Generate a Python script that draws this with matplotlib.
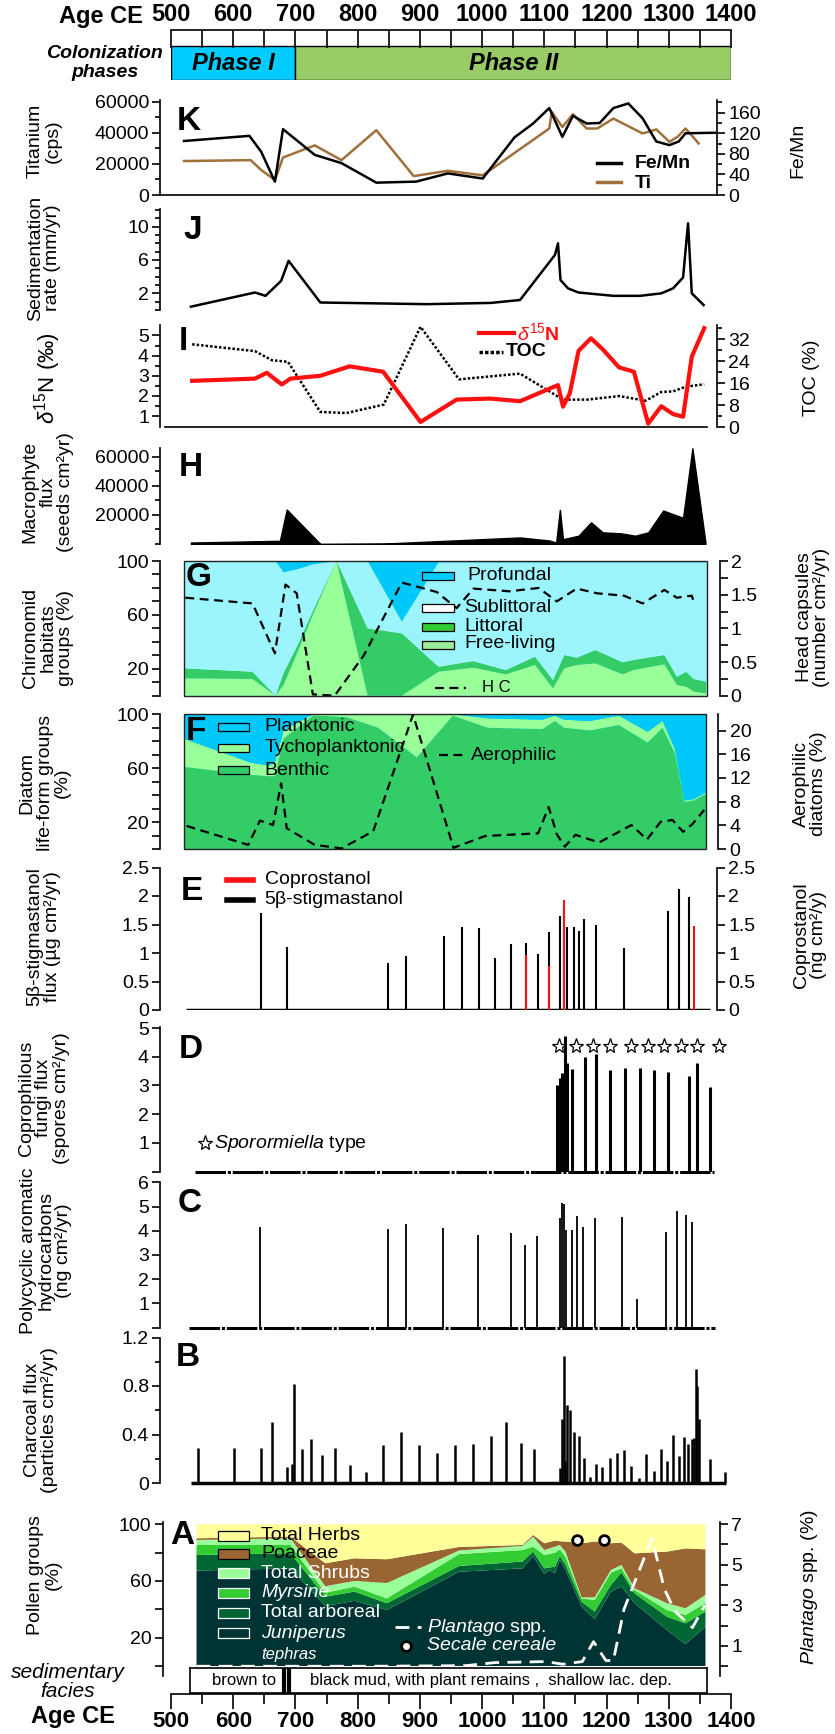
import numpy as np
import matplotlib
matplotlib.use("Agg")
import matplotlib.pyplot as plt
from matplotlib.patches import Rectangle
from matplotlib.lines import Line2D
from matplotlib.ticker import FixedLocator, FixedFormatter

plt.rcParams['font.family'] = ['Liberation Sans', 'DejaVu Sans']
plt.rcParams['mathtext.fontset'] = 'custom'
plt.rcParams['mathtext.rm'] = 'Liberation Sans'
plt.rcParams['mathtext.it'] = 'Liberation Sans:italic'
plt.rcParams['mathtext.bf'] = 'Liberation Sans:bold'
plt.rcParams['axes.linewidth'] = 1.2

# ---------------- data ----------------
phase_names = ['Phase I', 'Phase II']
phase_start = [500, 700]
phase_end = [700, 1400]

# K  Fe/Mn and Ti
femn_years = [521, 626, 645, 667, 680, 731, 774, 830, 894, 945, 1001, 1052, 1082, 1108, 1129,
              1146, 1168, 1189, 1211, 1235, 1258, 1280, 1301, 1316, 1327, 1374]
fe_mn = [105, 115, 84, 26, 128, 78, 62, 24, 26, 42, 32, 112, 139, 169, 113,
         154, 139, 140, 169, 178, 149, 104, 97, 104, 120, 121]
ti_years = [521, 628, 645, 667, 680, 731, 774, 830, 890, 945, 1001, 1108, 1112, 1129, 1146,
            1168, 1185, 1211, 1258, 1280, 1301, 1314, 1327, 1348]
ti_cps = [21900, 22500, 16100, 9700, 24200, 32000, 22500, 41800, 12200, 15600, 12700, 42900, 53600, 43900, 52100,
          42900, 42900, 49300, 39700, 42300, 34300, 37500, 42900, 33300]

# J  sedimentation rate
sed_years = [532, 635, 652, 677, 689, 740, 825, 911, 1014, 1061, 1117, 1122, 1126, 1138, 1155,
             1211, 1254, 1288, 1307, 1323, 1331, 1337, 1356]
sed_rate = [0.4, 2.1, 1.7, 3.5, 5.9, 0.9, 0.8, 0.7, 0.85, 1.2, 6.6, 8.0, 3.6, 2.6, 2.1,
            1.7, 1.7, 2.0, 2.6, 3.9, 10.4, 2.0, 0.6]

# I  d15N and TOC
d15n_years = [534, 635, 654, 678, 692, 740, 787, 841, 901, 959, 1013, 1061, 1122, 1130, 1141,
              1155, 1175, 1194, 1220, 1244, 1267, 1288, 1307, 1323, 1337, 1357]
d15n = [2.75, 2.86, 3.15, 2.57, 2.86, 3.0, 3.47, 3.2, 0.71, 1.82, 1.87, 1.74, 2.54, 1.47, 2.13,
        4.24, 4.86, 4.31, 3.42, 3.2, 0.63, 1.49, 1.1, 0.97, 3.95, 5.36]
toc_years = [534, 635, 662, 688, 740, 782, 842, 901, 963, 1061, 1130, 1169, 1220, 1263, 1288, 1307, 1327, 1357]
toc = [30.2, 27.7, 24.4, 23.8, 5.5, 5.1, 8.2, 36.6, 17.4, 19.5, 10.0, 10.0, 11.3, 9.6, 12.8, 13.0, 14.7, 15.6]

# H  macrophyte flux
macro_years = [532, 675, 686, 740, 843, 1061, 1083, 1108, 1119, 1125, 1130, 1155, 1175, 1194,
               1224, 1246, 1267, 1291, 1323, 1338, 1359]
macro_flux = [1000, 2200, 23700, 0, 300, 4500, 3500, 2400, 1000, 23500, 3300, 5700, 14900, 8000,
              7300, 5700, 8000, 23000, 18000, 65800, 1000]

# G  chironomid habitat groups (%) and head capsules
chiro_years = [521, 631, 668, 681, 704, 728, 766, 816, 871, 930, 986, 1038, 1085, 1114, 1132,
               1152, 1182, 1226, 1243, 1293, 1313, 1328, 1340, 1360]
free_living = [12.9, 12.4, 0, 8, 33, 60, 100, 0, 0, 17.8, 20.8, 15.8, 22.8, 5.4, 20.3,
               22.8, 24, 15.8, 19, 23.3, 8, 6.7, 3, 1.7]
littoral = [7.4, 5.4, 0, 9, 5, 3, 0, 50, 46.3, 3.7, 4.9, 3.2, 6.2, 6.2, 9.9,
            5.4, 9.9, 9, 7.5, 6.9, 6.1, 11.1, 9.4, 8.7]
sublittoral = [79.7, 82.2, 100, 74.6, 56, 34.5, 0, 50, 8.7, 77.5, 73.3, 80, 70, 87.4, 68.8,
               70.8, 65.1, 74.2, 72.5, 68.8, 84.9, 81.2, 86.6, 88.6]
profundal = [0, 0, 0, 8.4, 6, 2.5, 0, 0, 45, 1, 1, 1, 1, 1, 1,
             1, 1, 1, 1, 1, 1, 1, 1, 1]
hc_years = [523, 631, 667, 684, 702, 728, 763, 810, 871, 927, 959, 986, 1044, 1091, 1120,
            1152, 1185, 1228, 1258, 1293, 1313, 1337, 1341]
head_caps = [1.455, 1.37, 0.63, 1.65, 1.52, 0.02, 0, 0.6, 1.68, 1.54, 1.30, 1.59, 1.55, 1.60, 1.40,
             1.59, 1.52, 1.485, 1.37, 1.57, 1.455, 1.485, 1.37]

# F  diatom life-form groups (%) and aerophilic diatoms
diat_years = [520, 629, 658, 667, 681, 728, 781, 833, 895, 953, 1009, 1097, 1117, 1132, 1173,
              1220, 1266, 1290, 1310, 1325, 1340, 1360]
benthic = [61, 55, 54, 54, 82, 99, 98, 90, 68, 99, 90, 89, 95, 90, 88, 92, 79, 90, 71, 35, 36, 41]
tychoplank = [21, 9, 8, 10, 6, 1, 2, 10, 32, 1, 7, 7, 4, 6, 7, 7, 8, 5, 3, 1, 1, 1]
planktonic = [18, 36, 38, 36, 12, 0, 0, 0, 0, 0, 3, 4, 1, 4, 5, 1, 13, 5, 26, 64, 63, 58]
aero_years = [525, 624, 643, 664, 677, 686, 731, 774, 825, 889, 954, 1005, 1090, 1107, 1120,
              1133, 1150, 1188, 1240, 1265, 1287, 1306, 1323, 1338, 1357]
aerophilic = [3.9, 0.7, 4.8, 4.05, 11.1, 3.5, 0.7, 0.1, 3.0, 22.7, 0.2, 2.2, 2.65, 7.1, 2.5,
              0.4, 2.4, 1.1, 4.05, 1.6, 4.6, 4.9, 2.9, 4.2, 6.6]

# E  stanols
stig_years = [644, 686, 849, 878, 938, 967, 995, 1021, 1047, 1070, 1090, 1107, 1126, 1132, 1136,
              1148, 1155, 1163, 1183, 1228, 1298, 1316, 1332]
stigmastanol = [1.71, 1.10, 0.82, 0.94, 1.30, 1.46, 1.44, 0.92, 1.16, 1.18, 0.99, 1.37, 1.65, 1.75, 1.45,
                1.45, 1.38, 1.59, 1.50, 1.09, 1.73, 2.13, 1.99]
copro_years = [1070, 1107, 1131, 1341]
coprostanol = [0.96, 0.77, 1.93, 1.47]
stanol_span = [524, 1366]

# D  coprophilous fungi
fungi_years = [1121, 1125, 1129, 1133, 1136, 1145, 1165, 1183, 1206, 1230, 1254, 1276, 1299, 1332, 1345, 1366]
fungi_flux = [3.01, 3.25, 3.43, 4.73, 3.77, 3.56, 4.0, 4.09, 3.54, 3.6, 3.6, 3.54, 3.46, 3.34, 3.77, 2.93]
sporormiella_years = [1123, 1151, 1179, 1206, 1240, 1266, 1293, 1320, 1345, 1380]
fungi_span = [538, 1372]

# C  PAH
pah_years = [643, 848, 878, 937, 994, 1046, 1069, 1089, 1125, 1129, 1132, 1135, 1145, 1153, 1162,
             1181, 1225, 1249, 1296, 1313, 1328, 1338]
pah_flux = [4.17, 4.07, 4.26, 4.12, 3.82, 3.92, 3.41, 3.78, 4.51, 5.13, 5.09, 4.03, 4.03, 4.61, 4.17,
            4.51, 4.55, 1.18, 3.96, 4.81, 4.65, 4.38]
pah_span = [529, 1374]

# B  charcoal
char_years = [544, 601, 645, 663, 687, 694, 697, 710, 725, 742, 763, 787, 813, 840, 869, 898, 928, 957, 986, 1014,
              1039, 1063, 1083, 1125, 1128, 1131, 1133, 1136, 1141, 1147, 1155, 1163, 1173, 1183, 1193, 1205, 1217,
              1228, 1240, 1252, 1264, 1276, 1287, 1297, 1307, 1316, 1324, 1331, 1338, 1341, 1344, 1345, 1349,
              1366, 1391]
charcoal = [0.29, 0.29, 0.29, 0.50, 0.13, 0.16, 0.82, 0.28, 0.36, 0.23, 0.29, 0.15, 0.09, 0.31, 0.42, 0.31, 0.25,
            0.31, 0.32, 0.39, 0.50, 0.33, 0.28, 0.12, 0.53, 1.05, 0.18, 0.64, 0.60, 0.42, 0.39, 0.21, 0.05, 0.16,
            0.13, 0.21, 0.25, 0.27, 0.14, 0.04, 0.24, 0.10, 0.28, 0.18, 0.40, 0.22, 0.38, 0.32, 0.36, 0.37, 0.94,
            0.80, 0.53, 0.20, 0.09]
char_span = [532, 1392]

# A  pollen groups (%)
pollen_years = [541, 692, 748, 795, 847, 963, 1065, 1082, 1100, 1108, 1117, 1125, 1134, 1160, 1181,
                1207, 1224, 1245, 1297, 1327, 1359]
juniperus = [67.3, 68.9, 42.3, 46.0, 39.5, 66.5, 68.9, 77.6, 64.9, 67.7, 65.4, 74.8, 67.7, 41.9, 33.0,
             52.5, 56.1, 44.3, 25.4, 15.5, 27.8]
arboreal = [11.0, 10.6, 6.6, 6.5, 4.8, 4.1, 4.8, 3.1, 4.0, 1.8, 4.7, 2.8, 3.6, 3.5, 5.4,
            4.7, 9.9, 7.0, 9.4, 14.6, 10.6]
myrsine = [7.1, 5.9, 2.8, 3.5, 3.4, 8.4, 8.1, 3.5, 9.4, 9.5, 9.9, 4.7, 5.8, 2.3, 8.2,
           8.7, 2.9, 2.3, 4.7, 5.9, 5.9]
shrubs = [3.5, 4.7, 4.6, 4.0, 10.8, 2.5, 2.9, 7.1, 3.5, 4.0, 4.2, 3.1, 3.6, 0.7, 1.8,
          1.8, 2.4, 1.2, 4.8, 4.7, 5.9]
poaceae = [1.2, 1.2, 16.2, 16.0, 16.8, 2.5, 0.7, 1.2, 4.8, 4.5, 4.3, 2.6, 7.1, 38.2, 39.4,
           18.9, 15.8, 24.7, 36.4, 42.3, 32.1]
herbs = [9.9, 8.7, 27.5, 24.0, 24.7, 16.0, 14.6, 7.5, 13.4, 12.5, 11.5, 12.0, 12.2, 13.4, 12.2,
         13.4, 12.9, 20.5, 19.3, 17.0, 17.7]
plantago_years = [541, 700, 825, 974, 1021, 1102, 1130, 1161, 1179, 1199, 1211, 1228, 1273, 1293, 1310, 1338, 1358]
plantago = [0, 0, 0, 0.03, 0.18, 0.23, 0.1, 0.23, 1.21, 0.28, 0.28, 2.8, 6.3, 3.8, 2.7, 1.9, 3.0]
secale_years = [1153, 1196]
tephra_years = [681, 690]

# ---------------- layout helpers ----------------
W, H = 835, 1734
fig = plt.figure(figsize=(W / 100, H / 100), dpi=100)
BROWN = '#A0703A'
YL = dict(rotation=90, ha='center', va='center', fontsize=14, linespacing=1.05, multialignment='center')
LEG = dict(fontsize=14, va='center', ha='left')


def yr(px):
    return 500 + (px - 171) / 0.6222


def add_box(x0, y0, x1, y1):
    ax = fig.add_axes([x0 / W, 1 - y1 / H, (x1 - x0) / W, (y1 - y0) / H])
    ax.set_xlim(yr(x0), yr(x1))
    ax.patch.set_visible(False)
    for s in ['top', 'right', 'bottom']:
        ax.spines[s].set_visible(False)
    ax.set_xticks([])
    return ax


def right_twin(ax):
    ax2 = ax.twinx()
    for s in ['top', 'left', 'bottom']:
        ax2.spines[s].set_visible(False)
    return ax2


def yticks(ax, major, labels=None, minor=None, minor_len=3.5):
    ax.yaxis.set_major_locator(FixedLocator(major))
    ax.yaxis.set_major_formatter(FixedFormatter(labels if labels is not None else [f'{m:g}' for m in major]))
    if minor is not None:
        ax.yaxis.set_minor_locator(FixedLocator(minor))
    ax.tick_params(axis='y', which='major', direction='out', length=6, width=1.2, labelsize=14, pad=2)
    ax.tick_params(axis='y', which='minor', direction='out', length=minor_len, width=1.2)


def ftext(x, y, s, **kw):
    return fig.text(x / W, 1 - y / H, s, **kw)


def frect(x, y, w, h, fc, ec='black', lw=0.9):
    fig.add_artist(Rectangle((x / W, 1 - (y + h) / H), w / W, h / H, transform=fig.transFigure,
                             fc=fc, ec=ec, lw=lw, zorder=5))


def fline(x0, x1, y, **kw):
    fig.add_artist(Line2D([x0 / W, x1 / W], [1 - y / H, 1 - y / H], transform=fig.transFigure, zorder=5, **kw))


def fmark(x, y, **kw):
    fig.add_artist(Line2D([x / W], [1 - y / H], transform=fig.transFigure, zorder=6, ls='none', **kw))


def letter(x, y, s):
    ftext(x, y, s, fontsize=24, fontweight='bold', va='center', ha='left')


# ---------------- top age axis and phases ----------------
ax_top = fig.add_axes([171 / W, 1 - 80 / H, 560 / W, 50 / H])
ax_top.set_xlim(500, 1400)
ax_top.set_ylim(50, 0)
ax_top.barh([33] * len(phase_names), np.subtract(phase_end, phase_start), left=phase_start, height=34,
            color=['#00CCFF', '#99CC66'], edgecolor='black', lw=1)
for name, s, e in zip(phase_names, phase_start, phase_end):
    ax_top.text((s + e) / 2, 33, name, ha='center', va='center', fontsize=17, fontweight='bold', style='italic')
for s in ['left', 'right', 'bottom']:
    ax_top.spines[s].set_visible(False)
ax_top.patch.set_visible(False)
ax_top.set_yticks([])
ax_top.xaxis.tick_top()
ax_top.set_xticks(np.arange(500, 1401, 100))
ax_top.set_xticks(np.arange(550, 1400, 100), minor=True)
ax_top.tick_params(axis='x', which='both', direction='in', length=13, width=1.2, labelsize=17, pad=3)
for t in ax_top.get_xticklabels():
    t.set_fontweight('bold')
ftext(101, 16, 'Age CE', fontsize=17, fontweight='bold', ha='center', va='center')
ftext(163, 63, 'Colonization\nphases', fontsize=14, fontweight='bold', style='italic', ha='right', va='center',
      multialignment='center', linespacing=1.1)

# ---------------- K ----------------
ax_k = add_box(160, 100, 717, 195)
ax_k.spines['bottom'].set_visible(True)
ax_k.set_ylim(0, 61290)
ax_k.plot(ti_years, ti_cps, color=BROWN, lw=1.8)
yticks(ax_k, [0, 20000, 40000, 60000], minor=[10000, 30000, 50000])
ax_k2 = right_twin(ax_k)
ax_k2.set_ylim(0, 184.7)
ax_k2.plot(femn_years, fe_mn, color='black', lw=1.8)
yticks(ax_k2, [0, 40, 80, 120, 160], minor=[20, 60, 100, 140, 180])
letter(177, 121, 'K')
fline(597, 621, 163, color='black', lw=2.5)
ftext(635, 163, 'Fe/Mn', fontweight='bold', **LEG)
fline(597, 621, 182, color=BROWN, lw=2.5)
ftext(635, 183, 'Ti', fontweight='bold', **LEG)
ftext(44, 141, 'Titanium\n(cps)', **YL)
ftext(798, 150, 'Fe/Mn', **YL)

# ---------------- J ----------------
ax_j = add_box(160, 209, 717, 310)
ax_j.set_ylim(0, 12.12)
ax_j.plot(sed_years, sed_rate, color='black', lw=1.8)
yticks(ax_j, [2, 6, 10], minor=[0, 1, 3, 4, 5, 7, 8, 9, 11, 12])
letter(183, 231, 'J')
ftext(44, 258, 'Sedimentation\nrate (mm/yr)', **YL)

# ---------------- I ----------------
ax_i = add_box(160, 325, 717, 427)
ax_i.spines['bottom'].set_visible(True)
ax_i.spines['bottom'].set_bounds(yr(165), yr(707))
ax_i.set_ylim(0.46, 5.52)
yticks(ax_i, [1, 2, 3, 4, 5], minor=[1.5, 2.5, 3.5, 4.5])
ax_i2 = right_twin(ax_i)
ax_i2.set_ylim(0, 37.25)
ax_i2.plot(toc_years, toc, color='black', lw=1.8, ls=(0, (1, 0.8)))
yticks(ax_i2, [0, 8, 16, 24, 32], minor=[4, 12, 20, 28, 36])
ax_i.set_zorder(ax_i2.get_zorder() + 1)
ax_i.plot(d15n_years, d15n, color='#FF1010', lw=3)
letter(179, 342, 'I')
fline(479, 514, 333, color='#FF1010', lw=3)
ftext(517, 333, r'$\delta^{15}$N', color='#FF1010', fontweight='bold', **LEG)
fline(479, 503, 352, color='black', lw=2.5, ls=(0, (1, 0.6)))
ftext(506, 352, 'TOC', fontweight='bold', **LEG)
ftext(48, 378, r'$\delta^{15}$N (‰)', **{**YL, 'fontsize': 16})
ftext(812, 378, 'TOC (%)', **YL)

# ---------------- H ----------------
ax_h = add_box(160, 448, 717, 544)
ax_h.set_ylim(0, 66000)
ax_h.fill_between(macro_years, macro_flux, color='black', lw=1)
yticks(ax_h, [20000, 40000, 60000], minor=[0, 10000, 30000, 50000])
letter(179, 467, 'H')
ftext(48, 492, 'Macrophyte\nflux\n(seeds cm²yr)', **YL)

# ---------------- G ----------------
ax_g = fig.add_axes([184 / W, 1 - 695.7 / H, (707 - 184) / W, (695.7 - 561) / H])
ax_g.set_xlim(yr(184), yr(707))
ax_g.set_ylim(0, 100)
ax_g.set_facecolor('#9CF5FC')
ax_g.stackplot(chiro_years, free_living, littoral, sublittoral, profundal,
               colors=['#99FF99', '#33CC66', '#9CF5FC', '#00C8F8'], lw=0)
ax_g.set_xticks([])
for s in ['top', 'right', 'bottom']:
    ax_g.spines[s].set_visible(False)
ax_g.spines['left'].set_position(('outward', 17.3))
ax_g.add_patch(Rectangle((0, 0), 1, 1, transform=ax_g.transAxes, fill=False, ec='#222222', lw=1,
                         clip_on=False, zorder=5))
yticks(ax_g, [20, 60, 100], minor=[0, 10, 30, 40, 50, 70, 80, 90], minor_len=6)
ax_g2 = right_twin(ax_g)
ax_g2.spines['right'].set_position(('outward', 9))
ax_g2.set_ylim(0, 2)
ax_g2.plot(hc_years, head_caps, color='black', lw=1.6, ls=(0, (4, 2.5)))
yticks(ax_g2, [0, 0.5, 1, 1.5, 2], minor=[0.25, 0.75, 1.25, 1.75], minor_len=6)
letter(186, 578, 'G')
frect(422, 572, 32, 8, '#00CCFF')
ftext(467, 575.5, 'Profundal', **LEG)
frect(422, 604, 32, 8, 'white')
ftext(464, 607.5, 'Sublittoral', **LEG)
frect(422, 623, 32, 8, '#33CC33')
ftext(464, 626.5, 'Littoral', **LEG)
frect(422, 640.5, 32, 8, '#99EE99')
ftext(464, 644, 'Free-living', **LEG)
fline(435, 466, 688, color='black', lw=1.6, ls=(0, (4, 2.5)))
ftext(482, 688, 'H C', fontsize=12, va='center', ha='left')
ftext(48, 638, 'Chironomid\nhabitats\ngroups (%)', **YL)
ftext(813, 617, 'Head capsules\n(number cm²/yr)', **YL)

# ---------------- F ----------------
ax_f = fig.add_axes([184 / W, 1 - 849 / H, (706 - 184) / W, (849 - 714.3) / H])
ax_f.set_xlim(yr(184), yr(706))
ax_f.set_ylim(0, 100)
ax_f.set_facecolor('#00C8F8')
ax_f.stackplot(diat_years, benthic, tychoplank, planktonic,
               colors=['#33CC66', '#99FF99', '#00C8F8'], lw=0)
ax_f.set_xticks([])
for s in ['top', 'right', 'bottom']:
    ax_f.spines[s].set_visible(False)
ax_f.spines['left'].set_position(('outward', 17.3))
ax_f.add_patch(Rectangle((0, 0), 1, 1, transform=ax_f.transAxes, fill=False, ec='#222222', lw=1,
                         clip_on=False, zorder=5))
yticks(ax_f, [20, 60, 100], minor=[0, 10, 30, 40, 50, 70, 80, 90], minor_len=6)
ax_f2 = right_twin(ax_f)
ax_f2.spines['right'].set_position(('outward', 9))
ax_f2.set_ylim(0, 22.75)
ax_f2.plot(aero_years, aerophilic, color='black', lw=1.6, ls=(0, (4, 2.5)))
yticks(ax_f2, [0, 4, 8, 12, 16, 20])
letter(186, 731, 'F')
frect(217.5, 722.5, 31.5, 8, '#00CCFF')
ftext(264.5, 726.5, 'Planktonic', **LEG)
frect(217.5, 744, 31.5, 8, '#99FF99')
ftext(264.5, 748, 'Tychoplanktonic', **LEG)
frect(217.5, 765.5, 31.5, 8, '#33CC66')
ftext(264.5, 770, 'Benthic', **LEG)
fline(438.5, 464, 755, color='black', lw=1.6, ls=(0, (4, 2.5)))
ftext(471, 755, 'Aerophilic', **LEG)
ftext(45, 783, 'Diatom\nlife-form groups\n(%)', **YL)
ftext(810, 784, 'Aerophilic\ndiatoms (%)', **YL)

# ---------------- E ----------------
ax_e = add_box(160, 867.5, 717, 1010)
ax_e.set_ylim(0, 2.5)
ax_e.plot(stanol_span, [0, 0], color='black', lw=2.5, solid_capstyle='butt')
ax_e.vlines(stig_years, 0, stigmastanol, color='black', lw=1.5)
ax_e.vlines(copro_years, 0, coprostanol, color='#FF1010', lw=1.5)
lab = ['0', '0.5', '1', '1.5', '2', '2.5']
yticks(ax_e, [0, 0.5, 1, 1.5, 2, 2.5], lab)
ax_e2 = right_twin(ax_e)
ax_e2.set_ylim(0, 2.5)
yticks(ax_e2, [0, 0.5, 1, 1.5, 2, 2.5], lab)
letter(181, 892, 'E')
fline(226.6, 252.8, 880, color='#FF1010', lw=4)
ftext(264.5, 880, 'Coprostanol', **LEG)
fline(226.6, 252.8, 900, color='black', lw=4)
ftext(264.5, 900, '5β-stigmastanol', **LEG)
ftext(44, 937, '5β-stigmastanol\nflux (µg cm²/yr)', **YL)
ftext(810, 935, 'Coprostanol\n(ng cm²/y)', **YL)

# ---------------- D ----------------
ax_d = add_box(160, 1026.7, 717, 1171.5)
ax_d.set_ylim(0, 5.05)
ax_d.plot(fungi_span, [0, 0], color='black', lw=2.2, ls=(0, (10, 0.6, 1, 0.6)), clip_on=False)
ax_d.vlines(fungi_years, 0, fungi_flux, color='black', lw=2.2)
ax_d.plot(sporormiella_years, [4.37] * len(sporormiella_years), ls='none', marker='*', ms=11,
          mfc='white', mec='black', mew=0.9, clip_on=False)
yticks(ax_d, [0, 1, 2, 3, 4, 5], ['', '1', '2', '3', '4', '5'])
letter(179, 1049, 'D')
fmark(205, 1143, marker='*', ms=11, mfc='white', mec='black', mew=0.9)
ftext(214, 1144, r'$\it{Sporormiella}$ type', **LEG)
ftext(44, 1098, 'Coprophilous\nfungi flux\n(spores cm²/yr)', **YL)

# ---------------- C ----------------
ax_c = add_box(160, 1182.3, 717, 1327.5)
ax_c.set_ylim(0, 6)
ax_c.plot(pah_span, [0, 0], color='black', lw=2.2, ls=(0, (10, 0.6, 1, 0.6)), clip_on=False)
ax_c.vlines(pah_years, 0, pah_flux, color='black', lw=1.3)
yticks(ax_c, [0, 1, 2, 3, 4, 5, 6], ['', '1', '2', '3', '4', '5', '6'])
letter(178, 1204, 'C')
ftext(46, 1251, 'Polycyclic aromatic\nhydrocarbons\n(ng cm²/yr)', **YL)

# ---------------- B ----------------
ax_b = add_box(160, 1337.5, 727, 1483)
ax_b.set_ylim(0, 1.2)
ax_b.plot(char_span, [0, 0], color='black', lw=2.5, solid_capstyle='butt', clip_on=False)
ax_b.vlines(char_years, 0, charcoal, color='black', lw=1.8)
yticks(ax_b, [0, 0.4, 0.8, 1.2], minor=[0.2, 0.6, 1.0])
letter(176, 1357, 'B')
ftext(41, 1420, 'Charcoal flux\n(particles cm²/yr)', **YL)

# ---------------- A ----------------
ax_a = add_box(162.7, 1522, 720, 1676)
ax_a.set_ylim(-7.06, 101.6)
ax_a.stackplot(pollen_years, juniperus, arboreal, myrsine, shrubs, poaceae, herbs,
               colors=['#003333', '#006633', '#33CC33', '#99FF99', '#996633', '#FFFF99'], lw=0)
yticks(ax_a, [20, 60, 100], minor=[0, 40, 80], minor_len=6)
ax_a2 = right_twin(ax_a)
ax_a2.set_ylim(-0.48, 7.1)
ax_a2.plot(plantago_years, plantago, color='white', lw=2, ls=(0, (5, 3)))
ax_a2.plot(secale_years, [6.2] * len(secale_years), ls='none', marker='o', ms=7, mfc='white', mec='black', mew=2)
yticks(ax_a2, [1, 3, 5, 7], minor=[0, 2, 4, 6], minor_len=6)
letter(170, 1535, 'A')
leg_rows = [(1536, 'Total Herbs', '#FFFF99', 'black', 'black', 'normal'),
            (1554, 'Poaceae', '#996633', 'black', 'black', 'normal'),
            (1573, 'Total Shrubs', '#99FF99', 'white', 'white', 'normal'),
            (1592.5, 'Myrsine', '#33CC33', 'white', 'white', 'italic'),
            (1612.5, 'Total arboreal', '#006633', 'white', 'white', 'normal'),
            (1633, 'Juniperus', '#003333', 'white', 'white', 'italic')]
for yy, name, fc, ec, tc, st in leg_rows:
    frect(217.6, yy - 5, 31.5, 10, fc, ec=ec)
    ftext(261, yy, name, color=tc, style=st, **LEG)
ftext(261, 1655, 'tephras', color='white', style='italic', fontsize=12, va='center', ha='left')
fline(394.7, 421.3, 1627.3, color='white', lw=2, ls=(0, (5, 3)))
ftext(426.7, 1627, r'$\it{Plantago}$ spp.', color='white', **LEG)
fmark(406.4, 1646, marker='o', ms=7, mfc='white', mec='black', mew=2)
ftext(426.7, 1646, 'Secale cereale', color='white', style='italic', **LEG)
ftext(44, 1575, 'Pollen groups\n(%)', **YL)
ftext(810, 1587, r'$\it{Plantago}$ spp. (%)', **YL)

# sedimentary facies strip
ax_fac = fig.add_axes([190.4 / W, 1 - 1692.7 / H, (706.7 - 190.4) / W, (1692.7 - 1668.3) / H])
ax_fac.set_xlim(yr(190.4), yr(706.7))
ax_fac.set_ylim(0, 1)
ax_fac.set_xticks([])
ax_fac.set_yticks([])
ax_fac.vlines(tephra_years, 0, 1, color='black', lw=3)
ax_fac.text(617, 0.5, 'brown to', ha='center', va='center', fontsize=12)
ax_fac.text(1014, 0.5, 'black mud, with plant remains ,  shallow lac. dep.', ha='center', va='center', fontsize=12)
ftext(68, 1682, 'sedimentary\nfacies', fontsize=15, style='italic', ha='center', va='center',
      multialignment='center', linespacing=1.0)

# ---------------- bottom age axis ----------------
ax_bot = fig.add_axes([171 / W, 1 - 1694 / H, 560 / W, 10 / H])
ax_bot.set_xlim(500, 1400)
for s in ['left', 'right', 'top']:
    ax_bot.spines[s].set_visible(False)
ax_bot.patch.set_visible(False)
ax_bot.set_yticks([])
ax_bot.set_xticks(np.arange(500, 1401, 100))
ax_bot.set_xticks(np.arange(550, 1400, 100), minor=True)
ax_bot.tick_params(axis='x', which='major', direction='out', length=11, width=1.2, labelsize=16, pad=1)
ax_bot.tick_params(axis='x', which='minor', direction='out', length=7, width=1.2)
for t in ax_bot.get_xticklabels():
    t.set_fontweight('bold')
ftext(73, 1716, 'Age CE', fontsize=17, fontweight='bold', ha='center', va='center')

fig.savefig('out.png', dpi=100)
